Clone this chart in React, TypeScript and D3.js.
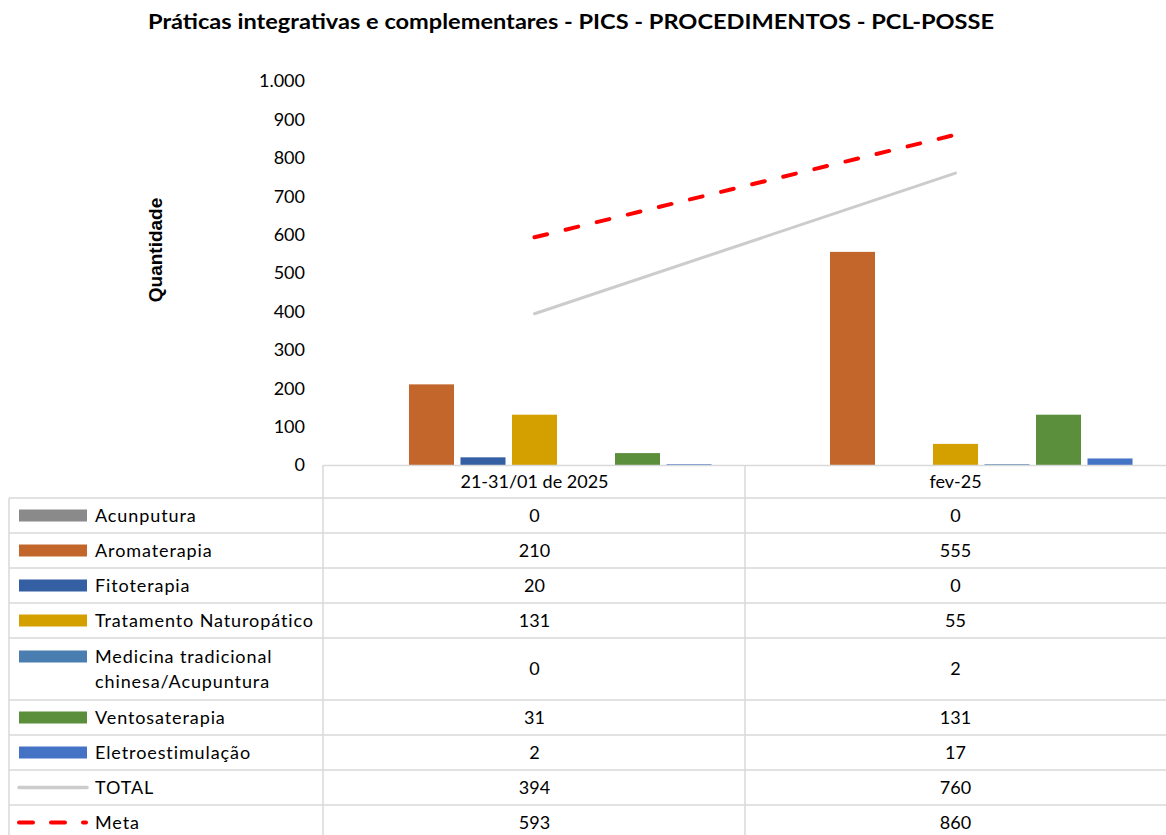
import React from "react";
import * as d3 from "d3";

const categories = ["21-31/01 de 2025", "fev-25"];
const seriesNames = [
  "Acunputura",
  "Aromaterapia",
  "Fitoterapia",
  "Tratamento Naturopático",
  "Medicina tradicional chinesa/Acupuntura",
  "Ventosaterapia",
  "Eletroestimulação",
];
const seriesColors = ["#8a8a8a", "#c3662b", "#355fa3", "#d4a000", "#4a7eb0", "#5b8f3b", "#4472c4"];
const acupuntura = [0, 0];
const aromaterapia = [210, 555];
const fitoterapia = [20, 0];
const tratamento = [131, 55];
const medicina = [0, 2];
const ventosaterapia = [31, 131];
const eletroestimulacao = [2, 17];
const total = [394, 760];
const meta = [593, 860];
const yTicks = [0, 100, 200, 300, 400, 500, 600, 700, 800, 900, 1000];

const seriesValues = [acupuntura, aromaterapia, fitoterapia, tratamento, medicina, ventosaterapia, eletroestimulacao];

const W = 1166;
const H = 835;
const FONT = "Lato, 'Open Sans', sans-serif";

export default function App() {
  const plotLeft = 324;
  const plotRight = 1166;
  const x0 = d3.scaleBand<string>().domain(categories).range([plotLeft, plotRight]);
  const x1 = d3
    .scaleBand<number>()
    .domain(d3.range(seriesNames.length))
    .range([0, x0.bandwidth()])
    .paddingInner(0.126)
    .paddingOuter(0.65);
  const y = d3.scaleLinear().domain([0, 1000]).range([465, 81]);
  const fmt = (v: number) => d3.format(",")(v).replace(/,/g, ".");

  const lineGen = d3
    .line<number>()
    .x((_, i) => (x0(categories[i]) as number) + x0.bandwidth() / 2)
    .y((d) => y(d));

  const tableLeft = 9;
  const labelRight = 323;
  const midX = 745;
  type Row = { label: string[]; kind: "bar" | "total" | "meta"; color: string; values: number[]; h: number };
  const rows: Row[] = [
    ...seriesNames.map((n, i) => ({
      label: i === 4 ? ["Medicina tradicional", "chinesa/Acupuntura"] : [n],
      kind: "bar" as const,
      color: seriesColors[i],
      values: seriesValues[i],
      h: i === 4 ? 62 : 35,
    })),
    { label: ["TOTAL"], kind: "total", color: "#cccccc", values: total, h: 35 },
    { label: ["Meta"], kind: "meta", color: "#ff0000", values: meta, h: 35 },
  ];
  let yCursor = 498;
  const rowPos = rows.map((r) => {
    const top = yCursor;
    yCursor += r.h;
    return { top, bottom: yCursor };
  });

  const gridColor = "#d9d9d9";

  return (
    <svg width={W} height={H} style={{ position: "absolute", left: 0, top: 0, background: "#fff" }} fontFamily={FONT}>
      <rect x={0} y={0} width={W} height={H} fill="#fff" />
      <text
        x={571}
        y={29}
        textAnchor="middle"
        fontWeight="bold"
        fontSize={20}
        fill="#000"
        textLength={846}
        lengthAdjust="spacingAndGlyphs"
      >
        Práticas integrativas e complementares - PICS - PROCEDIMENTOS - PCL-POSSE
      </text>

      <text
        transform="translate(162,250) rotate(-90)"
        textAnchor="middle"
        fontFamily="'Liberation Sans', Arial, sans-serif"
        fontWeight="bold"
        fontSize={19}
        fill="#000"
      >
        Quantidade
      </text>

      {yTicks.map((t) => (
        <text key={t} x={305} y={y(t)} dy="0.35em" textAnchor="end" fontSize={18} fill="#000">
          {fmt(t)}
        </text>
      ))}

      {categories.map((c, ci) => (
        <g key={c} transform={`translate(${x0(c)},0)`}>
          {seriesValues.map((vals, si) => {
            const v = vals[ci];
            if (v <= 0) return null;
            return (
              <rect
                key={si}
                x={x1(si)}
                y={y(v)}
                width={x1.bandwidth()}
                height={y(0) - y(v)}
                fill={seriesColors[si]}
              />
            );
          })}
        </g>
      ))}

      <path d={lineGen(total) || ""} fill="none" stroke="#cccccc" strokeWidth={3} strokeLinecap="round" />
      <path
        d={lineGen(meta) || ""}
        fill="none"
        stroke="#ff0000"
        strokeWidth={4}
        strokeLinecap="round"
        strokeDasharray="13 19"
      />

      <line x1={labelRight} x2={plotRight} y1={465.5} y2={465.5} stroke={gridColor} strokeWidth={1.5} />
      {rowPos.map((p, i) => (
        <line key={i} x1={tableLeft} x2={plotRight} y1={p.top} y2={p.top} stroke={gridColor} strokeWidth={1.5} />
      ))}
      <line x1={tableLeft} x2={tableLeft} y1={498} y2={H} stroke={gridColor} strokeWidth={1.5} />
      <line x1={labelRight} x2={labelRight} y1={465} y2={H} stroke={gridColor} strokeWidth={1.5} />
      <line x1={midX} x2={midX} y1={465} y2={H} stroke={gridColor} strokeWidth={1.5} />

      {categories.map((c) => (
        <text
          key={c}
          x={(x0(c) as number) + x0.bandwidth() / 2}
          y={481.5}
          dy="0.35em"
          textAnchor="middle"
          fontSize={18}
          fill="#000"
        >
          {c}
        </text>
      ))}

      {rows.map((r, i) => {
        const { top, bottom } = rowPos[i];
        const cy = (top + bottom) / 2;
        const firstLineY = r.label.length > 1 ? cy - 12.5 : cy;
        return (
          <g key={i}>
            {r.kind === "bar" && <rect x={19} y={firstLineY - 6} width={68} height={12} fill={r.color} />}
            {r.kind === "total" && (
              <line x1={19} x2={87} y1={cy} y2={cy} stroke={r.color} strokeWidth={3.5} strokeLinecap="round" />
            )}
            {r.kind === "meta" && (
              <line
                x1={19}
                x2={86}
                y1={cy}
                y2={cy}
                stroke={r.color}
                strokeWidth={4}
                strokeLinecap="round"
                strokeDasharray="14 18"
              />
            )}
            {r.label.map((l, li) => (
              <text
                key={li}
                x={95}
                y={firstLineY + li * 25}
                dy="0.35em"
                fontSize={18}
                letterSpacing={0.9}
                fill="#000"
              >
                {l}
              </text>
            ))}
            {categories.map((c, ci) => (
              <text
                key={c}
                x={(x0(c) as number) + x0.bandwidth() / 2}
                y={cy}
                dy="0.35em"
                textAnchor="middle"
                fontSize={18}
                fill="#000"
              >
                {fmt(r.values[ci])}
              </text>
            ))}
          </g>
        );
      })}
    </svg>
  );
}
